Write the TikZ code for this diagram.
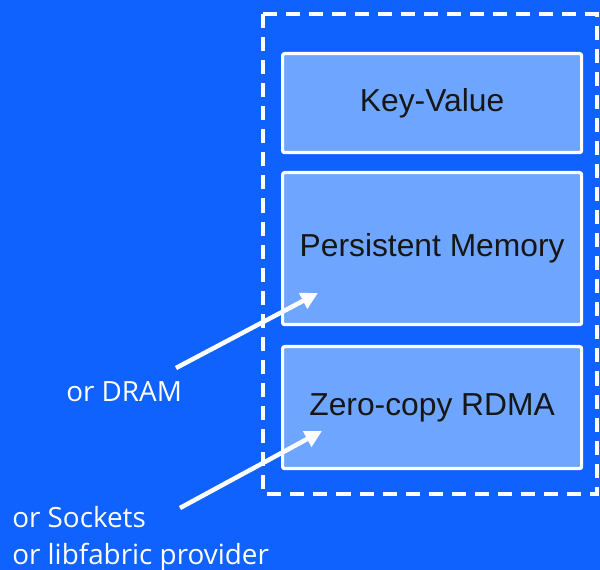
\documentclass[tikz,border=0pt]{standalone}
\usepackage{fontspec}
\setmainfont{Liberation Sans}
\newfontfamily\labelfont{Open Sans}
\usetikzlibrary{arrows.meta}
\definecolor{bgblue}{HTML}{0F62FE}
\definecolor{boxblue}{HTML}{6EA6FF}
\definecolor{txtdark}{HTML}{161616}
\tikzset{
    layer/.style={draw=white, fill=boxblue, line width=2.3pt, rounded corners=1.5pt,
        minimum width=299*0.025cm, anchor=north west, inner sep=0pt,
        text=txtdark, font=\fontsize{22.6}{26}\selectfont},
    note/.style={text=white, font=\labelfont\fontsize{19.8}{26.5}\selectfont, inner sep=0pt},
    pointer/.style={draw=white, line width=3.2pt, -{Triangle[length=12pt, width=12pt]}}
}
\begin{document}
\begin{tikzpicture}[x=0.025cm, y=-0.025cm]

% background
    \fill[bgblue] (0,0) rectangle (600,570);
    \useasboundingbox (0,0) rectangle (600,570);

% dashed frame
    \draw[white, line width=3pt, dash pattern=on 10pt off 6.4pt] (263,14) rectangle (597,494);

% layers
    \node[layer, minimum height=99*0.025cm] (kv) at (281,52) {Key-Value};
    \node[layer, minimum height=152*0.025cm] (pmem) at (281,171) {Persistent Memory};
    \node[layer, minimum height=122*0.025cm] (rdma) at (281,345) {Zero-copy RDMA};

% side notes
    \node[note, anchor=west] (dram) at (66,392) {or DRAM};
    \node[note, anchor=north west, align=left] (sockets) at (12,506) {or Sockets\\or libfabric provider};

% arrows
    \coordinate (dram tail) at (176,368);
    \coordinate (pmem head) at (318,293);
    \coordinate (sockets tail) at (180,508);
    \coordinate (rdma head) at (322,431);
    \draw[pointer] (dram tail) -- (pmem head);
    \draw[pointer] (sockets tail) -- (rdma head);

\end{tikzpicture}
\end{document}
